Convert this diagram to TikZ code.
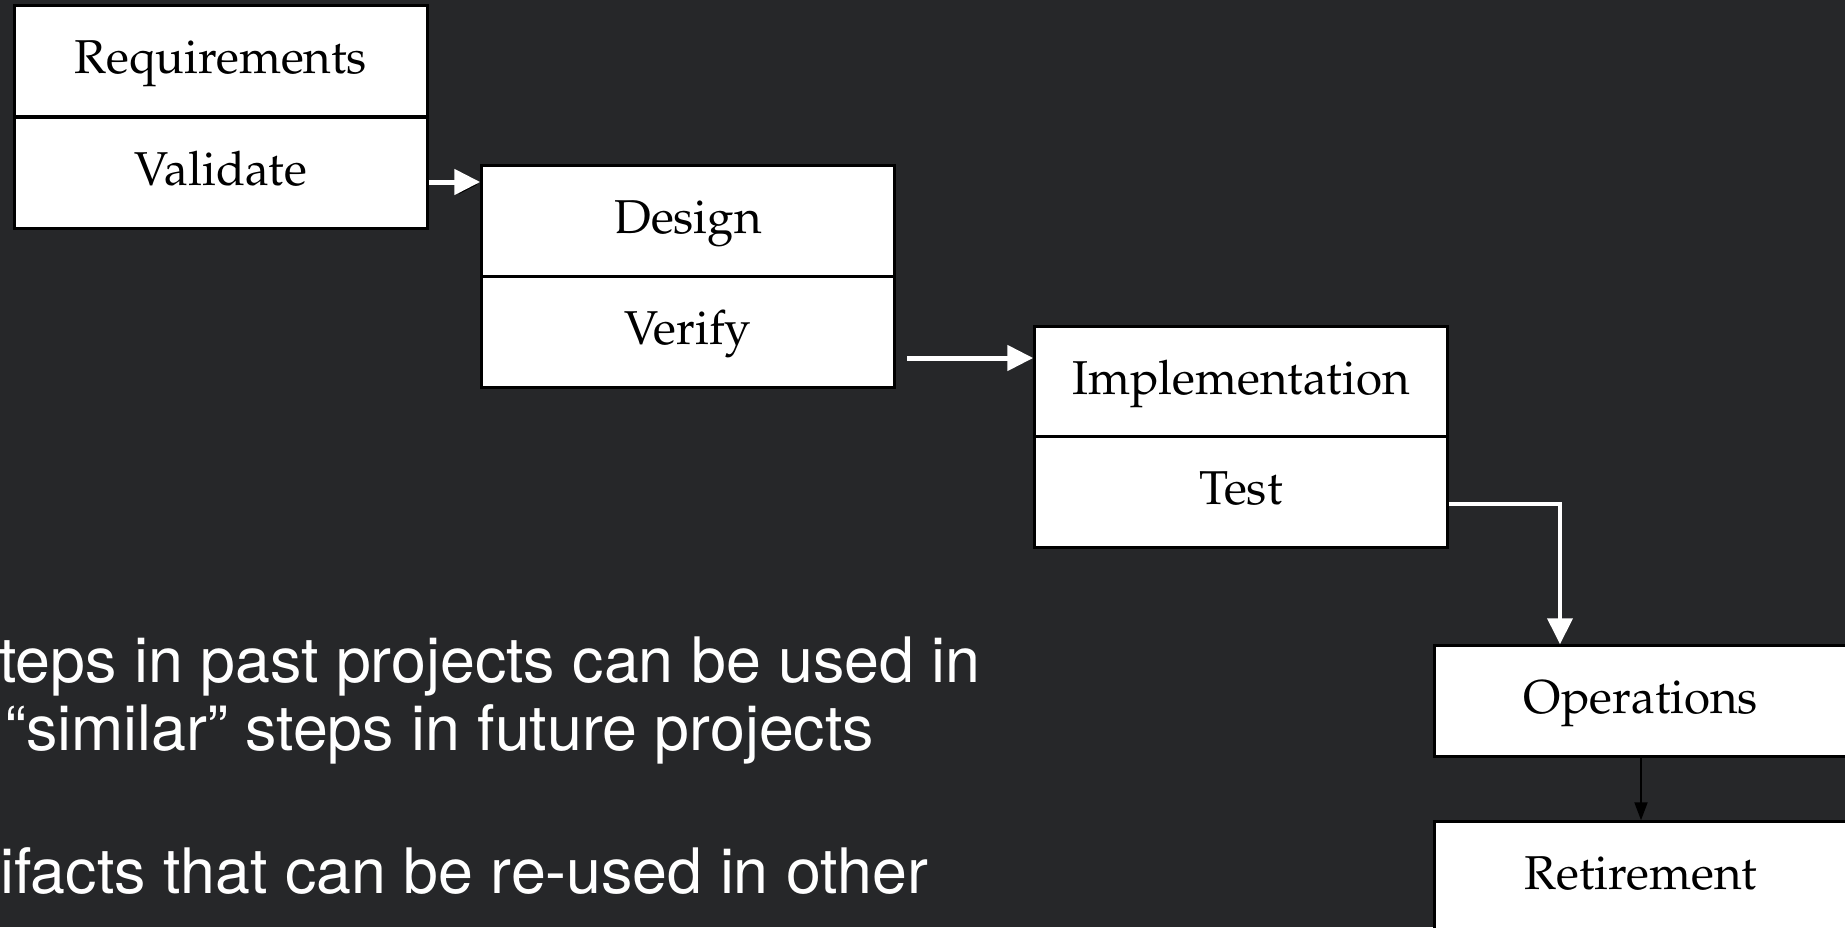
\documentclass[tikz,border=0pt]{standalone}
\usepackage[T1,TU]{fontenc}
\usepackage{fontspec}
\usepackage{tikz}
\usetikzlibrary{arrows.meta}

\newfontfamily\notefont{TeX Gyre Heros}
\newcommand{\stagefont}{\fontencoding{T1}\fontfamily{ppl}\selectfont}
\definecolor{slidebg}{RGB}{38,39,41}

\begin{document}
\begin{tikzpicture}[x=1pt, y=-1pt,
        stage/.style={draw=black, line width=2.5pt, fill=white, minimum width=413pt, minimum height=111pt,
            inner sep=0pt, text height=34pt, text depth=10pt, font=\stagefont\fontsize{47.5}{56}\selectfont},
        whitearrow/.style={draw=white, line width=5pt, -{Triangle[length=26pt, width=25pt]}},
        shadowed/.style={preaction={draw=black, transform canvas={shift={(2.5pt,-2.5pt)}}}},
        blackarrow/.style={draw=black, line width=2pt, -{Triangle[length=18pt, width=13pt]}},
        note/.style={anchor=base west, inner sep=0pt, text=white, font=\notefont\fontsize{62.7}{70}\selectfont}]
        \fill [slidebg] (0,0) rectangle (1845,927);         % slide background
        \useasboundingbox (0,0) rectangle (1845,927);
        \clip (0,0) rectangle (1845,927);
        \node[note] (note1) at (-1,682) {teps in past projects can be used in};
        \node[note] (note2) at (5,750) {“similar” steps in future projects};
        \node[note] (note3) at (0,893) {ifacts that can be re-used in other};
        \node[stage] (req) at (221,61) {Requirements};     % two boxes per phase
        \node[stage] (val) at (221,173) {Validate};
        \node[stage] (des) at (688,221) {Design};
        \node[stage] (ver) at (688,332) {Verify};
        \node[stage] (imp) at (1241,382) {Implementation};
        \node[stage] (tst) at (1241,492) {Test};
        \node[stage] (ops) at (1641,701) {Operations};
        \node[stage] (ret) at (1641,877) {Retirement};
        \coordinate (valout) at ([yshift=-9pt]val.east);
        \coordinate (verout) at ([yshift=-26pt]ver.east);
        \coordinate (tstout) at ([yshift=-12pt]tst.east);
        \coordinate (bend) at (1560,504);
        \draw [whitearrow, shadowed] (valout) -- (valout -| des.west);
        \draw [whitearrow, shorten <=11pt] (verout) -- (verout -| imp.west);
        \draw [whitearrow, line width=4pt] (tstout) -- (bend) -- (bend |- ops.north);
        \draw [blackarrow] (ops) -- (ret);
    \end{tikzpicture}
\end{document}
